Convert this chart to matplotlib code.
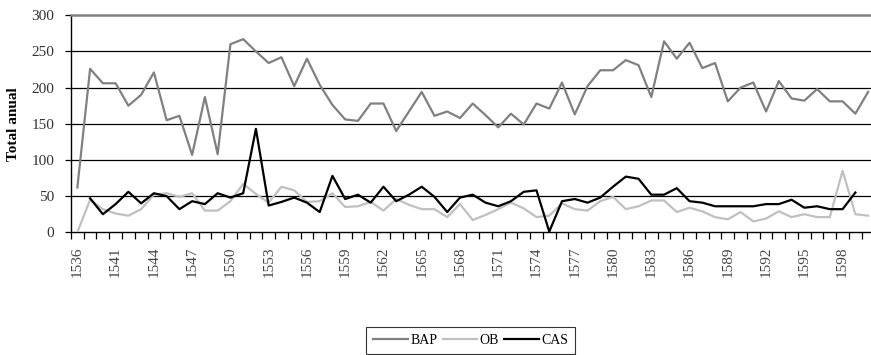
import numpy as np
import matplotlib.pyplot as plt
from matplotlib.ticker import FixedLocator

plt.rcParams['font.family'] = ['Liberation Serif', 'DejaVu Serif']

# categories (years) on the x axis
years = [1536, 1539, 1540, 1541, 1542, 1543, 1544, 1545, 1546, 1547,
         1548, 1549, 1550, 1551, 1552, 1553, 1554, 1555, 1556, 1557,
         1558, 1559, 1560, 1561, 1562, 1563, 1564, 1565, 1566, 1567,
         1568, 1569, 1570, 1571, 1572, 1573, 1574, 1575, 1576, 1577,
         1578, 1579, 1580, 1581, 1582, 1583, 1584, 1585, 1586, 1587,
         1588, 1589, 1590, 1591, 1592, 1593, 1594, 1595, 1596, 1597,
         1598, 1599, 1600]

bap = [62, 226, 206, 206, 175, 190, 221, 155, 161, 107,
       187, 108, 260, 267, 250, 234, 242, 202, 240, 204,
       176, 156, 154, 178, 178, 140, 167, 194, 161, 167,
       158, 178, 162, 145, 164, 149, 178, 171, 207, 163,
       202, 224, 224, 238, 231, 187, 264, 240, 262, 227,
       234, 181, 200, 207, 167, 209, 185, 182, 198, 181,
       181, 164, 194]

ob = [0, 45, 32, 26, 23, 32, 52, 54, 49, 54,
      30, 30, 43, 67, 53, 41, 63, 58, 42, 43,
      54, 35, 36, 42, 30, 46, 38, 32, 32, 21,
      39, 17, 24, 32, 41, 33, 21, 23, 40, 32,
      30, 43, 49, 32, 36, 44, 44, 28, 34, 29,
      21, 18, 28, 15, 19, 29, 21, 25, 21, 21,
      85, 25, 23]

cas = [np.nan, 47, 25, 39, 56, 40, 54, 50, 32, 43,
       39, 54, 48, 54, 143, 37, 42, 48, 41, 28,
       78, 46, 52, 41, 63, 43, 52, 63, 49, 28,
       48, 52, 41, 36, 43, 56, 58, 1, 43, 46,
       41, 48, 63, 77, 74, 52, 52, 61, 43, 41,
       36, 36, 36, 36, 39, 39, 45, 34, 36, 32,
       32, 55, np.nan]

x = np.arange(len(years))

fig = plt.figure(figsize=(8.71, 3.55), dpi=100)
ax = fig.add_axes([0.0815, 0.3456, 0.9225, 0.6114])

for yv in [50, 100, 150, 200, 250]:
    ax.axhline(yv, color='black', lw=0.9, zorder=1)

ax.plot(x, bap, color='#808080', lw=1.6, label='BAP', zorder=3)
ax.plot(x, ob, color='#c0c0c0', lw=1.6, label='OB', zorder=3)
ax.plot(x, cas, color='black', lw=1.6, label='CAS', zorder=4)

ax.set_xlim(-0.5, len(years) - 0.5)
ax.set_ylim(0, 300)
ax.set_yticks([0, 50, 100, 150, 200, 250, 300])
ax.tick_params(axis='y', length=4, labelsize=11, width=0.9, pad=8,
               labelcolor='#333333')

lab_idx = list(range(0, len(years), 3))
ax.set_xticks(lab_idx)
ax.set_xticklabels([str(years[i]) for i in lab_idx], rotation=90, fontsize=11,
                   color='#444444')
ax.tick_params(axis='x', which='major', length=0, pad=10)
ax.xaxis.set_minor_locator(FixedLocator(np.arange(-0.5, len(years), 1)))
ax.tick_params(axis='x', which='minor', length=5, width=0.9, direction='out')

ax.spines['top'].set_color('#808080')
ax.spines['top'].set_linewidth(1.8)
ax.spines['right'].set_visible(False)
ax.spines['left'].set_linewidth(1.0)
ax.spines['bottom'].set_linewidth(1.0)

ax.set_ylabel('Total anual', fontsize=11, fontweight='bold', labelpad=8)

leg = fig.legend(loc='center', bbox_to_anchor=(0.5405, 0.04), ncol=3,
                 fontsize=10, frameon=True, fancybox=False, edgecolor='black',
                 handlelength=2.5, handletextpad=0.15, columnspacing=0.4,
                 borderpad=0.5, borderaxespad=0)
leg.get_frame().set_linewidth(0.8)

plt.savefig('out.png', dpi=100)
